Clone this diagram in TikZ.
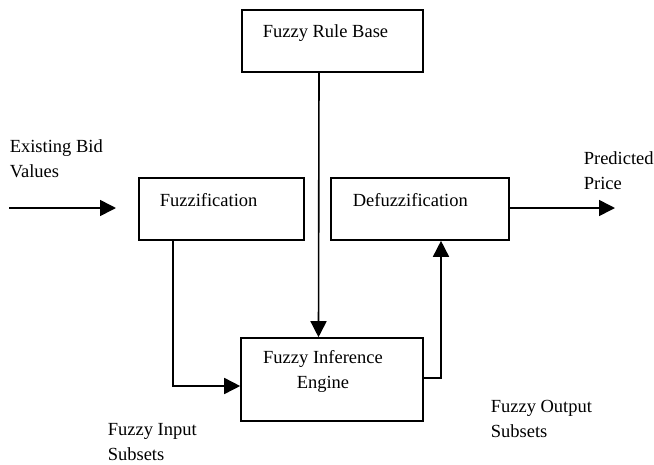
\documentclass[tikz,border=0pt]{standalone}
\usepackage{fontspec}
\setmainfont{Liberation Serif}
\usetikzlibrary{arrows.meta}

\begin{document}
\begin{tikzpicture}[x=1pt, y=-1pt, line width=1.6pt]
\tikzstyle{blockbox}=[rectangle, draw=black, line width=1.6pt, inner sep=0pt]
\tikzstyle{labeltext}=[inner sep=0pt, anchor=base west, align=left, font=\fontsize{18.5}{25}\selectfont]
\tikzstyle{flowarrow}=[-{Triangle[length=16pt, width=16pt]}]

\useasboundingbox (0,0) rectangle (654,464);

% blocks
\node[blockbox, minimum width=181, minimum height=62] (rule) at (332.5,41) {};
\node[blockbox, minimum width=165, minimum height=62] (fuzz) at (221.5,209) {};
\node[blockbox, minimum width=178, minimum height=62] (defuzz) at (420,209) {};
\node[blockbox, minimum width=182, minimum height=83] (infer) at (332,379.5) {};

% texts (base = last line)
\node[labeltext] (ruletxt) at (262,37) {Fuzzy Rule Base};
\node[labeltext] (fuzztxt) at (159,206) {Fuzzification};
\node[labeltext] (defuzztxt) at (352,206) {Defuzzification};
\node[labeltext, anchor=base, align=center] (infertxt) at (323,388) {Fuzzy Inference\\Engine};
\node[labeltext] (bidtxt) at (9,177) {Existing Bid\\Values};
\node[labeltext] (pricetxt) at (583,189) {Predicted\\Price};
\node[labeltext] (intxt) at (107,460) {Fuzzy Input\\Subsets};
\node[labeltext] (outtxt) at (490,437) {Fuzzy Output\\Subsets};

% connectors
\coordinate (bidin) at (9,208);
\coordinate (bidend) at (116,208);
\coordinate (priceend) at (615,208);
\draw[flowarrow] (bidin) -- (bidend);
\draw[flowarrow] ([yshift=1]defuzz.east) -- (priceend);
\draw[flowarrow] ([xshift=-13.5]rule.south) -- ([xshift=-13.5]infer.north);
\draw[flowarrow] ([xshift=-48.5]fuzz.south) |- ([yshift=-6.5]infer.west);
\draw[flowarrow] ([yshift=1.5]infer.east) -| ([xshift=21]defuzz.south);
\end{tikzpicture}
\end{document}
